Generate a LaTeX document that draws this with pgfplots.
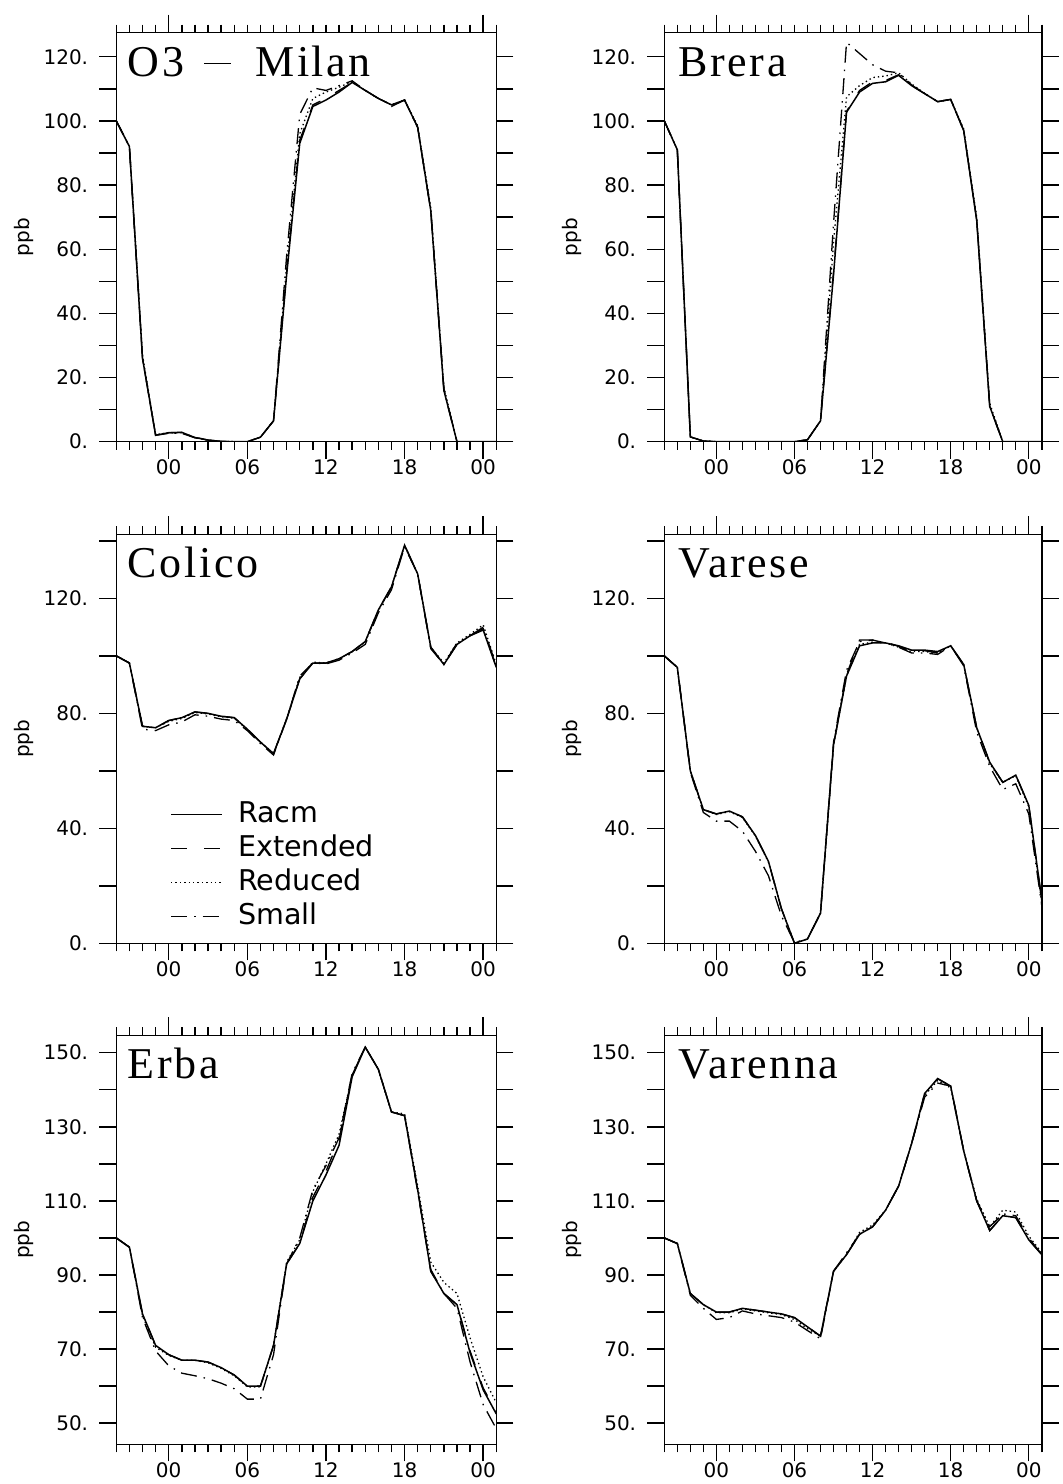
\documentclass[border=0pt]{standalone}
\usepackage{fontspec}
\setmainfont{DejaVu Sans}
\newfontfamily\titlefam{Liberation Serif}[LetterSpace=6.0]
\usepackage{pgfplots}
\pgfplotsset{compat=1.18}
\usepackage{pgfplotstable}

\newcommand\tickfont{\fontsize{20}{24}\selectfont}
\newcommand\legfont{\fontsize{28.6}{34}\selectfont}
\newcommand\ttlfont{\titlefam\fontsize{44}{50}\selectfont}

% columns: h racm extended reduced small
\pgfplotstableread{
h r e d s
-4 100 100 100 100
-3 92 92 92 92
-2 26 26 27 26
-1 2 2 2.2 2
0 2.8 2.8 2.8 2.6
1 2.9 2.9 2.8 2.6
2 1.3 1.4 1.3 1.2
3 0.5 0.5 0.5 0.5
4 0.1 0.1 0.1 0.1
5 0 0 0 0
6 0 0 0 0
7 1.4 1.4 1.4 1.4
8 6.5 6.5 6.5 6.5
9 52 53 55 58
10 93 94 96 102
11 104.5 105 107 110.3
12 106.5 107 109 109.5
13 109 109.5 110.5 111
14 112 112 112.3 112.5
15 109.5 109.5 109.5 109.5
16 107 107 107 107
17 105 104.5 105 105
18 106.5 106.5 106.5 106.5
19 98 98 98.5 98
20 72 72 73 72
21 16 16.5 17 16
22 0 0 0 0
23 0 0 0 0
24 0 0 0 0
25 0 0 0 0
}\tMilan

\pgfplotstableread{
h r e d s
-4 100 100 100 100
-3 91 91 91 91
-2 1.5 1.5 1.5 1.5
-1 0.2 0.2 0.2 0.2
0 0 0 0 0
1 0 0 0 0
2 0 0 0 0
3 0 0 0 0
4 0 0 0 0
5 0 0 0 0
6 0 0 0 0
7 0.6 0.6 0.6 0.6
8 6.5 6.5 6.5 6.5
9 52 53 62 68
10 102.7 103 107.5 124.5
11 109 109.5 111 121
12 111.7 112.2 113.5 117.5
13 112.2 112.6 114 115.5
14 114.2 114.4 115 115
15 111 111 111.5 111.2
16 108.5 108.5 108.6 108.5
17 106 106 106 106
18 106.7 106.7 106.7 106.7
19 97 97 97.5 97
20 69 69 70 69
21 11 11 12 11
22 0 0 0 0
23 0 0 0 0
24 0 0 0 0
25 0 0 0 0
}\tBrera

\pgfplotstableread{
h r e d s
-4 100 100 100 100
-3 97.5 97.5 97.5 97.5
-2 75.5 75.5 75.5 74.5
-1 75 75 75 74
0 77.5 77.5 77.2 76
1 78.5 78.5 78.2 77
2 80.5 80.5 80.3 79.5
3 80 80 79.8 79
4 79 79 78.8 78
5 78.5 78.5 78.3 77.5
6 74.5 74.5 74.3 74
7 70 70 70 69.5
8 66 66 66 65.5
9 78 78 78.2 78
10 92 92 92.5 93
11 97.5 97.5 97.8 97.5
12 97.5 97.5 97.5 97.2
13 99 99 99 98.5
14 101.5 101.5 101.5 101
15 105 105 104.8 104
16 116 116 115.8 115
17 124 124 124 123
18 138.5 138.5 138.3 138
19 128.5 128.5 128.5 128.5
20 103 103 103 102.5
21 97 97 97.5 97
22 104 104 104.5 104.5
23 107 107 107.5 107
24 109 109.5 110.8 110
25 96 96 97 96.5
}\tColico

\pgfplotstableread{
h r e d s
-4 100 100 100 100
-3 96 96 96 96
-2 60 60 60 59.5
-1 46.5 46.5 46.5 45.5
0 45 45 44.8 42.5
1 46 46 45.8 42.5
2 44 44 43.8 39
3 37.5 37.5 37.3 32
4 28.5 28.5 28.3 23.5
5 12 12 12 9.5
6 0 0 0 0.3
7 1.5 1.5 1.5 1.5
8 10.5 10.5 10.5 10.5
9 69 69 69 70
10 93 93.5 93 95
11 103.5 105.5 104 105
12 104.5 105.5 104.8 105.5
13 104.5 104.8 104.5 104.5
14 103.5 103.3 103 103
15 102 101.5 101.5 101
16 102 101.8 101.5 101
17 101.5 101 101 100.5
18 103.5 103.5 103.5 103.5
19 97 97 97 96.5
20 75 75 75 73.5
21 63 63 62.5 61.5
22 56 56 56 53.5
23 58.5 58.5 58.3 55.5
24 48 48 47.5 45
25 15 15 14 13
}\tVarese

\pgfplotstableread{
h r e d s
-4 100 100 100 100
-3 97.5 97.5 97.5 97.5
-2 79.5 79.5 79 78.5
-1 71 71 70.5 69.5
0 68.5 68.5 68.3 65.5
1 67 67 67 63.5
2 67 67 67 62.8
3 66.5 66.5 66.3 62
4 65 65 64.8 60.8
5 63 63 62.8 59.3
6 60 60 59.8 56.5
7 60 60 59.8 56.5
8 71 71 71 68.5
9 93 93 93.5 93
10 98.5 98.5 99.5 100
11 110 111 112.5 113
12 117 118 120 119.5
13 125 126.5 128 127
14 143.5 144 144 144.5
15 151.5 151.5 151.5 151.5
16 145.5 145.5 145.5 145.5
17 134 134 134 134
18 133 133 133.5 133
19 113 113 114 112.5
20 91 91 93.5 91.5
21 85 85 88 85
22 82 82 85 81
23 69 69.5 73 66.5
24 59 59.5 62.5 55
25 52.5 53 55.5 48.5
}\tErba

\pgfplotstableread{
h r e d s
-4 100 100 100 100
-3 98.5 98.5 98.5 98.5
-2 85 85 85 84.5
-1 82 82 82 81
0 80 80 79.8 78
1 80 80 79.8 78.5
2 81 81 80.8 80.3
3 80.5 80.5 80.3 79.5
4 80 80 79.8 79
5 79.5 79.5 79.3 78.5
6 78.5 78.5 78 77.3
7 76 76 75.5 75
8 73.5 73.5 73.5 72.8
9 91 91 91 91
10 95.5 95.5 95.5 96
11 101 101 101.5 101
12 103 103 103.5 103
13 107.5 107.5 107.5 107.5
14 114 114 114 114
15 125.5 125.5 125.5 125.5
16 139 139 138.5 138
17 143 143 142.5 141.8
18 141 141 140.5 141
19 123.5 123.5 123.5 123.5
20 110 110 110.5 110
21 102 102 103 103
22 106 106 107.5 106.5
23 105.5 105.5 107 106
24 99.5 99.5 100.5 100
25 95.5 95.5 96 95.5
}\tVarenna

\tikzset{
  ttl/.style={anchor=base west, inner sep=0pt, font=\ttlfont},
  ppbsty/.style={rotate=90, anchor=center, font=\tickfont, inner sep=0pt},
  leg/.style={anchor=base west, inner sep=0pt, font=\legfont},
  stRacm/.style={line width=1.5pt, solid, black},
  stExt/.style={line width=1.3pt, black, dash pattern=on 16pt off 17pt},
  stRed/.style={line width=1.3pt, black, dash pattern=on 1.4pt off 3pt},
  stSmall/.style={line width=1.3pt, black, dash pattern=on 16pt off 7pt on 1.5pt off 7pt},
}

\pgfplotsset{
  panel/.style={
    scale only axis, height=409pt,
    xmin=-4, xmax=25,
    xtick={0,6,12,18,24}, xticklabels={00,06,12,18,00},
    minor xtick={-4,...,25},
    xtick pos=left, ytick pos=both, yticklabel pos=left,
    tick align=outside,
    major tick length=17pt, minor tick length=8pt,
    axis line style={line width=1.5pt},
    every tick/.style={line width=1.4pt, black},
    tick label style={font=\tickfont},
    xticklabel style={inner sep=0pt, yshift=-1pt},
    yticklabel style={inner sep=0pt, xshift=-11pt},
  },
  topticks/.style={
    scale only axis, height=409pt,
    xmin=-4, xmax=25, ymin=0, ymax=1,
    xtick={0,24}, xticklabels={,},
    minor xtick={-4,...,25},
    xtick pos=right, ytick=\empty,
    tick align=outside,
    major tick length=18pt, minor tick length=8pt,
    axis line style={line width=1.5pt},
    every tick/.style={line width=1.4pt, black},
  },
  row1/.style={ymin=0, ymax=127.5, ytick={0,10,...,120},
    yticklabels={0.,,20.,,40.,,60.,,80.,,100.,,120.}},
  row2/.style={ymin=0, ymax=142.3, ytick={0,20,...,140},
    yticklabels={0.,,40.,,80.,,120.,}},
  row3/.style={ymin=44.3, ymax=154.7, ytick={50,60,...,150},
    yticklabels={50.,,70.,,90.,,110.,,130.,,150.}},
}

\newcommand\fourplots[1]{%
  \addplot[stSmall] table[x=h,y=s]{#1};
  \addplot[stRed] table[x=h,y=d]{#1};
  \addplot[stExt] table[x=h,y=e]{#1};
  \addplot[stRacm] table[x=h,y=r]{#1};
}

\begin{document}
\begin{tikzpicture}
\useasboundingbox (0,0) rectangle (1063pt,1484pt);

% ---------- Row 1 ----------
\begin{axis}[panel, row1, width=380pt, at={(116.3pt,1042.3pt)}, anchor=south west,
  ylabel={\tickfont ppb}, every axis y label/.style={at={(rel axis cs:-0.244,0.5)}, ppbsty}]
  \fourplots{\tMilan}
  \node[ttl] at (rel axis cs:0.03,0.894) {O3\hspace{20pt}\raisebox{12pt}{\rule{27pt}{1.5pt}}\hspace{24pt}Milan};
\end{axis}
\begin{axis}[topticks, width=380pt, at={(116.3pt,1042.3pt)}, anchor=south west]
\end{axis}

\begin{axis}[panel, row1, width=377.5pt, at={(664.3pt,1042.3pt)}, anchor=south west,
  ylabel={\tickfont ppb}, every axis y label/.style={at={(rel axis cs:-0.245,0.5)}, ppbsty}]
  \fourplots{\tBrera}
  \node[ttl] at (rel axis cs:0.037,0.894) {Brera};
\end{axis}
\begin{axis}[topticks, width=377.5pt, at={(664.3pt,1042.3pt)}, anchor=south west]
\end{axis}

% ---------- Row 2 ----------
\begin{axis}[panel, row2, width=380pt, at={(116.3pt,540.7pt)}, anchor=south west,
  ylabel={\tickfont ppb}, every axis y label/.style={at={(rel axis cs:-0.244,0.5)}, ppbsty}]
  \fourplots{\tColico}
  \node[ttl] at (rel axis cs:0.03,0.894) {Colico};
  % legend
  \draw[stRacm]  (rel axis cs:0.144,0.3145) -- (rel axis cs:0.278,0.3145);
  \node[leg] at (rel axis cs:0.320,0.2949) {Racm};
  \draw[stExt]   (rel axis cs:0.144,0.2313) -- (rel axis cs:0.278,0.2313);
  \node[leg] at (rel axis cs:0.320,0.2117) {Extended};
  \draw[stRed]   (rel axis cs:0.144,0.1482) -- (rel axis cs:0.278,0.1482);
  \node[leg] at (rel axis cs:0.320,0.1286) {Reduced};
  \draw[stSmall] (rel axis cs:0.144,0.0651) -- (rel axis cs:0.278,0.0651);
  \node[leg] at (rel axis cs:0.320,0.0455) {Small};
\end{axis}
\begin{axis}[topticks, width=380pt, at={(116.3pt,540.7pt)}, anchor=south west]
\end{axis}

\begin{axis}[panel, row2, width=377.5pt, at={(664.3pt,540.7pt)}, anchor=south west,
  ylabel={\tickfont ppb}, every axis y label/.style={at={(rel axis cs:-0.245,0.5)}, ppbsty}]
  \fourplots{\tVarese}
  \node[ttl] at (rel axis cs:0.037,0.894) {Varese};
\end{axis}
\begin{axis}[topticks, width=377.5pt, at={(664.3pt,540.7pt)}, anchor=south west]
\end{axis}

% ---------- Row 3 ----------
\begin{axis}[panel, row3, width=380pt, at={(116.3pt,39.7pt)}, anchor=south west,
  ylabel={\tickfont ppb}, every axis y label/.style={at={(rel axis cs:-0.244,0.5)}, ppbsty}]
  \fourplots{\tErba}
  \node[ttl] at (rel axis cs:0.03,0.894) {Erba};
\end{axis}
\begin{axis}[topticks, width=380pt, at={(116.3pt,39.7pt)}, anchor=south west]
\end{axis}

\begin{axis}[panel, row3, width=377.5pt, at={(664.3pt,39.7pt)}, anchor=south west,
  ylabel={\tickfont ppb}, every axis y label/.style={at={(rel axis cs:-0.245,0.5)}, ppbsty}]
  \fourplots{\tVarenna}
  \node[ttl] at (rel axis cs:0.037,0.894) {Varenna};
\end{axis}
\begin{axis}[topticks, width=377.5pt, at={(664.3pt,39.7pt)}, anchor=south west]
\end{axis}

\end{tikzpicture}
\end{document}
